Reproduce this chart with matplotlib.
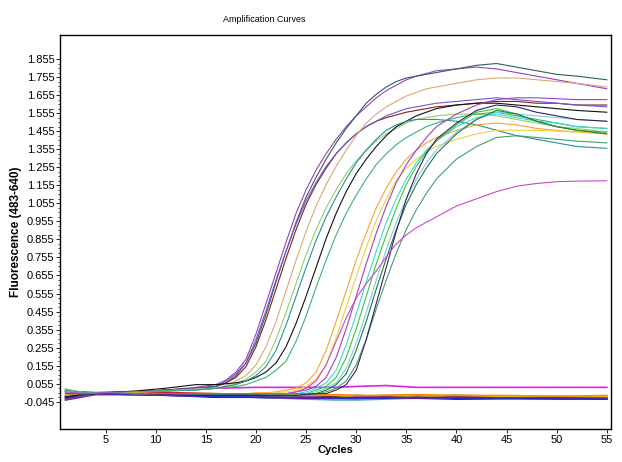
import numpy as np
from matplotlib import pyplot as plt
from matplotlib.ticker import FixedLocator

#--------------------------------
# DATA
#--------------------------------
# common cycle grid for the amplification curves
cycles = [1, 3, 5, 8, 11, 14,
          16, 17, 18, 19, 20, 21, 22, 23, 24, 25, 26, 27, 28, 29, 30, 31, 32, 33, 34, 35, 36, 37, 38,
          40, 42, 44, 46, 48, 50, 52, 55]

# early group (positive samples, low Ct)
e1_purple = [-0.025, 0.0, 0.005, 0.01, 0.02, 0.035,
             0.05, 0.075, 0.12, 0.19, 0.33, 0.50, 0.67, 0.84, 1.00, 1.13, 1.24, 1.33, 1.41, 1.48, 1.54, 1.59, 1.64, 1.68, 1.71, 1.74, 1.76, 1.775, 1.79,
             1.80, 1.81, 1.80, 1.78, 1.76, 1.74, 1.72, 1.69]
e2_slate = [-0.02, 0.0, 0.005, 0.01, 0.02, 0.03,
            0.04, 0.06, 0.10, 0.17, 0.28, 0.44, 0.62, 0.79, 0.95, 1.09, 1.20, 1.30, 1.39, 1.47, 1.54, 1.61, 1.66, 1.70, 1.73, 1.75, 1.76, 1.77, 1.78,
            1.80, 1.82, 1.83, 1.81, 1.79, 1.77, 1.76, 1.74]
e3_maroon = [0.02, 0.005, 0.005, 0.01, 0.02, 0.03,
             0.04, 0.06, 0.09, 0.15, 0.26, 0.41, 0.58, 0.75, 0.91, 1.05, 1.16, 1.25, 1.33, 1.39, 1.44, 1.48, 1.51, 1.53, 1.545, 1.56, 1.57, 1.58, 1.59,
             1.60, 1.61, 1.62, 1.62, 1.61, 1.61, 1.60, 1.60]
e4_violet = [-0.03, -0.005, 0.005, 0.01, 0.02, 0.03,
             0.04, 0.07, 0.11, 0.17, 0.30, 0.46, 0.63, 0.79, 0.94, 1.07, 1.17, 1.26, 1.33, 1.39, 1.44, 1.48, 1.51, 1.54, 1.56, 1.58, 1.59, 1.60, 1.61,
             1.62, 1.63, 1.64, 1.63, 1.62, 1.61, 1.60, 1.59]
e5_tan = [0.0, 0.0, 0.005, 0.01, 0.015, 0.025,
          0.03, 0.045, 0.07, 0.10, 0.16, 0.26, 0.40, 0.57, 0.74, 0.90, 1.04, 1.16, 1.26, 1.35, 1.43, 1.50, 1.55, 1.59, 1.62, 1.65, 1.67, 1.69, 1.70,
          1.72, 1.74, 1.75, 1.75, 1.74, 1.73, 1.72, 1.70]
e6_lightgreen = [0.025, 0.005, 0.005, 0.01, 0.015, 0.025,
                 0.03, 0.04, 0.055, 0.08, 0.12, 0.18, 0.30, 0.45, 0.61, 0.77, 0.91, 1.03, 1.13, 1.22, 1.29, 1.35, 1.40, 1.44, 1.47, 1.50, 1.52, 1.53, 1.54,
                 1.55, 1.55, 1.54, 1.52, 1.50, 1.48, 1.47, 1.45]
e7_black = [-0.02, 0.0, 0.005, 0.015, 0.03, 0.05,
            0.05, 0.055, 0.06, 0.07, 0.09, 0.12, 0.17, 0.26, 0.39, 0.54, 0.70, 0.86, 1.00, 1.12, 1.22, 1.30, 1.37, 1.43, 1.48, 1.51, 1.54, 1.56, 1.58,
            1.60, 1.61, 1.61, 1.60, 1.59, 1.58, 1.57, 1.56]
e8_teal = [0.01, 0.0, 0.005, 0.01, 0.015, 0.02,
           0.03, 0.04, 0.05, 0.07, 0.10, 0.15, 0.24, 0.38, 0.54, 0.70, 0.85, 0.98, 1.09, 1.19, 1.28, 1.35, 1.41, 1.46, 1.49, 1.51, 1.52, 1.52, 1.52,
           1.51, 1.49, 1.46, 1.43, 1.41, 1.39, 1.37, 1.36]
e9_green = [0.0, 0.0, 0.005, 0.01, 0.015, 0.02,
            0.03, 0.035, 0.04, 0.05, 0.07, 0.09, 0.13, 0.18, 0.29, 0.43, 0.59, 0.74, 0.88, 1.00, 1.10, 1.19, 1.27, 1.33, 1.38, 1.42, 1.45, 1.48, 1.50,
            1.53, 1.55, 1.56, 1.54, 1.52, 1.50, 1.48, 1.47]

# late group (positive samples, high Ct)
l1_orange = [0.0, 0.0, 0.005, 0.005, 0.0, 0.0,
             0.0, 0.0, 0.0, 0.0, 0.005, 0.005, 0.01, 0.02, 0.03, 0.06, 0.12, 0.24, 0.40, 0.57, 0.74, 0.89, 1.03, 1.14, 1.23, 1.30, 1.35, 1.39, 1.42,
             1.46, 1.49, 1.50, 1.49, 1.47, 1.46, 1.45, 1.44]
l2_yellow = [0.01, 0.0, 0.005, 0.0, 0.0, 0.0,
             0.0, 0.0, 0.0, 0.0, 0.0, 0.0, 0.005, 0.01, 0.02, 0.04, 0.08, 0.16, 0.31, 0.48, 0.65, 0.81, 0.96, 1.08, 1.18, 1.25, 1.30, 1.34, 1.37,
             1.41, 1.44, 1.46, 1.46, 1.46, 1.455, 1.45, 1.45]
l3_purple = [-0.03, -0.01, 0.0, 0.0, -0.005, -0.005,
             0.0, 0.0, 0.0, 0.0, 0.0, 0.0, 0.0, 0.0, 0.01, 0.02, 0.04, 0.09, 0.20, 0.36, 0.54, 0.72, 0.89, 1.04, 1.17, 1.27, 1.35, 1.42, 1.48,
             1.55, 1.60, 1.63, 1.64, 1.64, 1.635, 1.63, 1.63]
l4_cyan = [0.02, 0.005, 0.005, 0.0, 0.0, -0.005,
           -0.005, -0.005, -0.005, 0.0, 0.0, 0.0, 0.0, 0.0, 0.0, 0.01, 0.03, 0.06, 0.13, 0.27, 0.44, 0.62, 0.79, 0.95, 1.08, 1.19, 1.28, 1.35, 1.40,
           1.48, 1.53, 1.55, 1.53, 1.51, 1.50, 1.48, 1.47]
l5_green = [0.01, 0.005, 0.005, 0.0, 0.0, 0.0,
            0.0, 0.0, 0.0, 0.0, 0.0, 0.0, 0.0, 0.0, 0.0, 0.0, 0.02, 0.04, 0.09, 0.20, 0.36, 0.54, 0.72, 0.88, 1.03, 1.16, 1.26, 1.34, 1.40,
            1.49, 1.56, 1.58, 1.55, 1.51, 1.48, 1.46, 1.45]
l6_skyblue = [0.015, 0.005, 0.005, 0.0, -0.005, -0.005,
              -0.005, -0.005, -0.005, -0.005, 0.0, 0.0, 0.0, 0.0, 0.0, 0.0, 0.01, 0.03, 0.06, 0.14, 0.28, 0.45, 0.63, 0.80, 0.95, 1.08, 1.19, 1.28, 1.35,
              1.45, 1.52, 1.56, 1.55, 1.54, 1.53, 1.52, 1.51]
l7_darkgreen = [0.0, 0.0, 0.005, 0.0, 0.0, -0.005,
                -0.005, -0.005, -0.005, -0.005, -0.005, 0.0, 0.0, 0.0, 0.0, 0.0, 0.0, 0.02, 0.05, 0.11, 0.24, 0.40, 0.58, 0.75, 0.91, 1.05, 1.16, 1.25, 1.33,
                1.44, 1.52, 1.57, 1.55, 1.51, 1.48, 1.46, 1.44]
l8_seagreen = [0.02, 0.005, 0.005, 0.0, 0.0, 0.0,
               0.0, 0.0, 0.0, 0.0, 0.0, 0.0, 0.0, 0.0, 0.0, 0.0, 0.0, 0.01, 0.03, 0.07, 0.16, 0.30, 0.47, 0.63, 0.78, 0.91, 1.02, 1.11, 1.19,
               1.30, 1.37, 1.42, 1.43, 1.42, 1.41, 1.40, 1.39]
l9_indigo = [-0.025, -0.005, 0.0, 0.0, -0.005, -0.01,
             -0.01, -0.01, -0.01, -0.01, -0.01, -0.01, -0.01, -0.01, -0.01, -0.005, 0.0, 0.0, 0.02, 0.05, 0.13, 0.30, 0.50, 0.70, 0.90, 1.08, 1.22, 1.33, 1.41,
             1.50, 1.57, 1.60, 1.59, 1.56, 1.54, 1.52, 1.51]
slow_orchid = [0.01, 0.0, 0.005, 0.0, 0.0, 0.0,
               0.0, 0.0, 0.0, 0.0, 0.0, 0.0, 0.0, 0.0, 0.01, 0.03, 0.07, 0.16, 0.29, 0.42, 0.53, 0.61, 0.68, 0.76, 0.83, 0.88, 0.92, 0.95, 0.98,
               1.04, 1.08, 1.12, 1.15, 1.165, 1.175, 1.178, 1.18]

# negatives / no amplification
flat_cycles = [1, 2, 4, 8, 12, 16, 20, 25, 28, 30, 33, 36, 40, 45, 50, 55]
f9_black = [-0.015, -0.005, 0.0, 0.0, -0.005, -0.01, -0.01, -0.01, -0.015, -0.01, -0.015, -0.015, -0.01, -0.015, -0.02, -0.02]
f8_navy = [-0.02, -0.01, 0.0, -0.005, -0.01, -0.02, -0.02, -0.025, -0.025, -0.03, -0.025, -0.025, -0.03, -0.03, -0.025, -0.03]
f7_cadet = [0.025, 0.01, 0.005, 0.0, -0.01, -0.015, -0.02, -0.03, -0.035, -0.035, -0.03, -0.025, -0.025, -0.03, -0.03, -0.025]
f6_red = [0.015, 0.01, 0.005, 0.01, 0.005, 0.0, -0.005, -0.01, -0.01, -0.015, -0.01, -0.01, -0.015, -0.015, -0.015, -0.02]
f5_gold = [0.0, 0.0, 0.005, 0.0, -0.005, -0.005, -0.01, -0.005, -0.01, -0.015, -0.01, -0.015, -0.01, -0.015, -0.015, -0.015]
f4_orange = [-0.01, -0.005, 0.0, 0.0, -0.005, -0.005, -0.01, -0.01, -0.005, -0.01, -0.01, -0.005, -0.01, -0.01, -0.015, -0.01]
f3_purple = [-0.035, -0.025, -0.005, -0.005, -0.01, -0.015, -0.02, -0.025, -0.025, -0.02, -0.02, -0.025, -0.02, -0.025, -0.025, -0.03]
f2_blue = [-0.03, -0.02, 0.0, -0.005, -0.01, -0.015, -0.02, -0.02, -0.025, -0.025, -0.025, -0.02, -0.025, -0.025, -0.03, -0.03]
f1_magenta = [0.01, 0.005, 0.005, 0.01, 0.02, 0.03, 0.035, 0.035, 0.035, 0.04, 0.045, 0.035, 0.035, 0.035, 0.035, 0.035]

y_ticks = [-0.045 + 0.1 * k for k in range(20)]
x_ticks = [5, 10, 15, 20, 25, 30, 35, 40, 45, 50, 55]

#--------------------------------
# PLOT
#--------------------------------
plt.rcParams['font.family'] = ['Liberation Sans Narrow', 'Liberation Sans', 'DejaVu Sans']

fig = plt.figure(figsize=(6.22, 4.62), dpi=100)
ax = fig.add_axes([0.0965, 0.0714, 0.8855, 0.8528])

# flat traces first (black underneath, coloured ones on top)
flats = [(f9_black, '#202020'), (f8_navy, '#101080'), (f7_cadet, '#50a8b0'), (f6_red, '#d01830'),
         (f5_gold, '#e8c800'), (f4_orange, '#ff8c00'), (f3_purple, '#8010a0'), (f2_blue, '#2030d0'),
         (f1_magenta, '#e020e0')]
for vals, col in flats:
    ax.plot(flat_cycles, vals, color=col, lw=1.2)

amp = [(e1_purple, '#9b3fbf'), (e2_slate, '#2f5f5f'), (e3_maroon, '#8b1a1a'), (e4_violet, '#6a5acd'),
       (e5_tan, '#d9a877'), (e6_lightgreen, '#8fd16a'), (e7_black, '#111111'), (e8_teal, '#2a8fa0'),
       (e9_green, '#3cb371'), (l1_orange, '#ffa030'), (l2_yellow, '#e8d440'), (l3_purple, '#a040c8'),
       (l4_cyan, '#40d8d0'), (l5_green, '#33cc33'), (l6_skyblue, '#80c8f0'), (l7_darkgreen, '#1e7b3c'),
       (l8_seagreen, '#40a070'), (l9_indigo, '#3a2060'), (slow_orchid, '#c848c8')]
for vals, col in amp:
    ax.plot(cycles, vals, color=col, lw=0.8)

ax.set_xlim(0.45, 55.4)
ax.set_ylim(-0.196, 1.988)
ax.yaxis.set_major_locator(FixedLocator(y_ticks))
ax.set_yticklabels(['%.3f' % v for v in y_ticks])
ax.yaxis.set_minor_locator(FixedLocator([-0.045 + 0.025 * k for k in range(77)]))
ax.xaxis.set_major_locator(FixedLocator(x_ticks))
ax.tick_params(axis='both', which='major', labelsize=8, length=3, width=0.6, pad=1)
ax.tick_params(axis='y', which='minor', length=1.5, width=0.5)
for s in ax.spines.values():
    s.set_linewidth(1.0)

ax.set_xlabel('Cycles', fontsize=8, fontweight='bold', labelpad=0)
ax.set_ylabel('Fluorescence (483-640)', fontsize=8.5, fontweight='bold')
ax.yaxis.set_label_coords(-0.069, 0.5)
fig.text(0.4244, 0.957, 'Amplification Curves', fontsize=6.5, ha='center', va='center')

plt.savefig('out.png', dpi=100)
